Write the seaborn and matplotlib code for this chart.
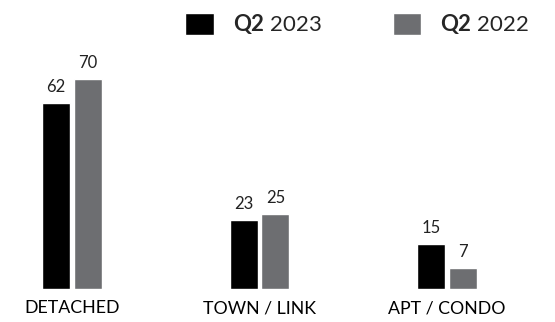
import matplotlib
matplotlib.use("Agg")
import matplotlib.pyplot as plt
import seaborn as sns
import pandas as pd

categories = ["DETACHED", "TOWN / LINK", "APT / CONDO"]
series_names = ["Q2 2023", "Q2 2022"]
values_2023 = [62, 23, 15]
values_2022 = [70, 25, 7]
colors = ["#000000", "#6d6e71"]

df = pd.DataFrame({
    "category": categories * 2,
    "series": [series_names[0]] * 3 + [series_names[1]] * 3,
    "value": values_2023 + values_2022,
})

sns.set_style("white")
plt.rcParams["font.family"] = ["Lato", "DejaVu Sans"]
plt.rcParams["mathtext.fontset"] = "custom"
plt.rcParams["mathtext.bf"] = "Lato:bold"
plt.rcParams["mathtext.rm"] = "Lato"

fig = plt.figure(figsize=(5.55, 3.22), dpi=100)
ax = fig.add_axes([0, 33 / 322, 1, 289 / 322])

sns.barplot(data=df, x="category", y="value", hue="series", order=categories,
            hue_order=series_names, palette=colors, width=0.3413, gap=0.125,
            saturation=1, ax=ax, legend=True)

ax.set_xlim(-72 / 187.5, (555 - 72) / 187.5)
ax.set_ylim(0, 289 / 3.0)
for s in ax.spines.values():
    s.set_visible(False)
ax.set_yticks([])
ax.set_xlabel("")
ax.set_ylabel("")
ax.tick_params(axis="x", length=0, pad=8, labelsize=12.8, labelcolor="#000000")

for cont in ax.containers:
    ax.bar_label(cont, padding=6, fontsize=12, color="#222222")

handles, _ = ax.get_legend_handles_labels()
labels = [r"$\bf{Q2}$" + " 2023", r"$\bf{Q2}$" + " 2022"]
ax.legend(handles, labels, ncol=2, frameon=False, fontsize=16,
          loc="upper left", bbox_to_anchor=(181 / 555, 1.0 - 8 / 289),
          bbox_transform=ax.transAxes, handlelength=1.28, handleheight=1.1,
          handletextpad=0.85, columnspacing=3.2, borderaxespad=0, borderpad=0.2)

fig.savefig("out.png", dpi=100)
